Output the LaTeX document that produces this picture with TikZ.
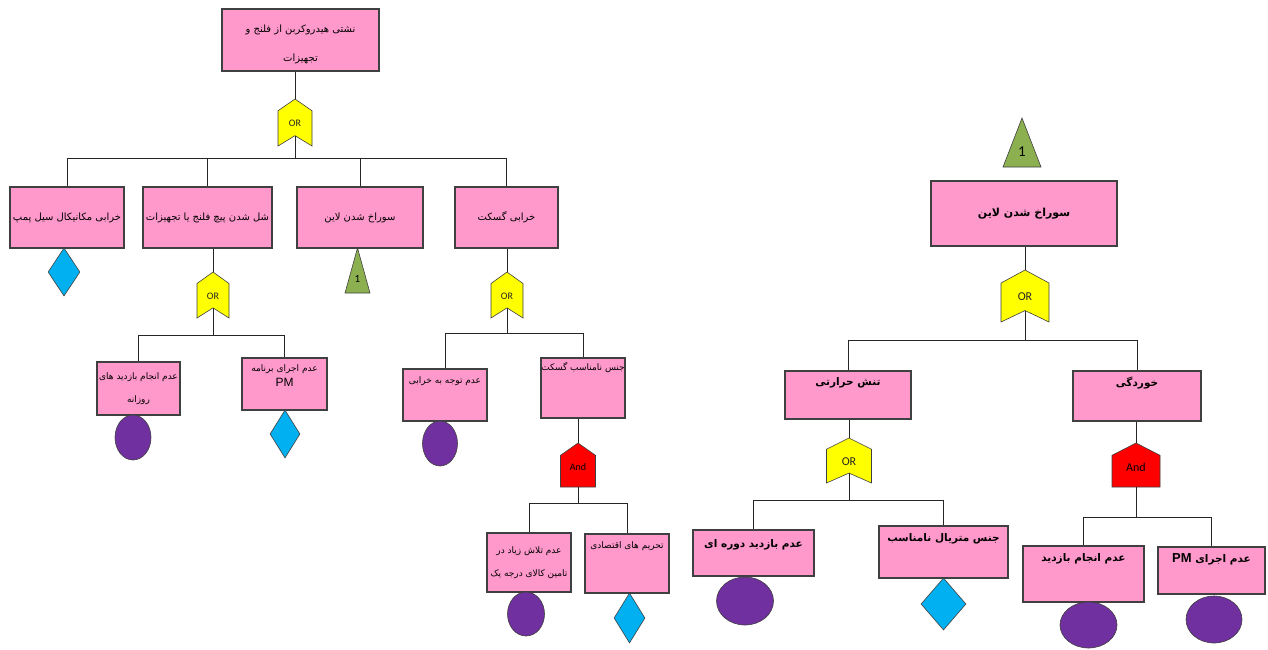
\documentclass[tikz,border=0pt]{standalone}
\usepackage{fontspec}
\usetikzlibrary{positioning,shapes.geometric}
\TeXXeTstate=1
\newfontfamily\farsi[Script=Arabic]{DejaVu Sans}
\newfontfamily\gatefont{Carlito}
\newfontfamily\pmfont{Liberation Sans}
\newcommand{\fa}[1]{{\farsi\beginR #1\endR}}

\definecolor{boxpink}{RGB}{255,153,204}
\definecolor{edgegray}{RGB}{64,64,64}
\definecolor{gateyellow}{RGB}{255,255,0}
\definecolor{gatered}{RGB}{255,0,0}
\definecolor{basecyan}{RGB}{0,176,240}
\definecolor{basepurple}{RGB}{112,48,160}
\definecolor{trigreen}{RGB}{140,176,80}

\tikzset{
	evbox/.style={draw=edgegray, line width=1.1pt, fill=boxpink, inner sep=2pt, align=center, font=\fontsize{9}{11}\selectfont},
	evtext/.style={inner sep=0pt, align=center, font=\fontsize{9}{11}\selectfont},
	bigtext/.style={inner sep=0pt, align=center, font=\bfseries\fontsize{10.5}{12}\selectfont},
	wire/.style={draw=black!85, line width=0.8pt},
	gateline/.style={draw=edgegray, line width=0.6pt},
	undev/.style={diamond, draw=edgegray, line width=0.6pt, fill=basecyan, inner sep=0pt},
	basicev/.style={ellipse, draw=black!75, line width=0.6pt, fill=basepurple, inner sep=0pt},
}

% name, cx, ytop, w, h, font size
\newcommand{\orgate}[6]{%
	\filldraw[gateline, fill=gateyellow] (#2,#3) -- ({#2+#4/2},{#3+0.25*#5}) -- ({#2+#4/2},{#3+#5}) -- (#2,{#3+0.78*#5}) -- ({#2-#4/2},{#3+#5}) -- ({#2-#4/2},{#3+0.25*#5}) -- cycle;
	\coordinate (#1-t) at (#2,#3);
	\coordinate (#1-b) at (#2,{#3+0.78*#5});
	\node[inner sep=0pt, text=black!85, font=\gatefont\fontsize{#6}{#6}\selectfont] (#1) at (#2,{#3+0.52*#5}) {OR};}
\newcommand{\andgate}[6]{%
	\filldraw[gateline, fill=gatered] (#2,#3) -- ({#2+#4/2},{#3+0.28*#5}) -- ({#2+#4/2},{#3+#5}) -- ({#2-#4/2},{#3+#5}) -- ({#2-#4/2},{#3+0.28*#5}) -- cycle;
	\coordinate (#1-t) at (#2,#3);
	\coordinate (#1-b) at (#2,{#3+#5});
	\node[inner sep=0pt, font=\gatefont\fontsize{#6}{#6}\selectfont] (#1) at (#2,{#3+0.55*#5}) {And};}
\newcommand{\trievent}[6]{%
	\filldraw[gateline, fill=trigreen] (#2,#3) -- ({#2+#4/2},{#3+#5}) -- ({#2-#4/2},{#3+#5}) -- cycle;
	\node[inner sep=0pt, font=\gatefont\fontsize{#6}{#6}\selectfont] (#1) at (#2,{#3+0.68*#5}) {1};}

\begin{document}
\begin{tikzpicture}[x=1pt, y=-1pt]
	\useasboundingbox (0,0) rectangle (1268,649);
	
	%%%%% LEFT TREE %%%%%
	
	\node[evbox, minimum width=157pt, minimum height=62pt] (top) at (300.5,40) {};
	\node[evtext, font=\fontsize{10}{12}\selectfont] (top-t) at (300.5,44) {\fa{نشتی هیدروکربن از فلنج و}\\[17pt]\fa{تجهیزات}};
	\orgate{g0}{295}{99}{34}{47}{10}
	\coordinate (bar0) at (0,158);
	
	\node[evbox, minimum width=114pt, minimum height=61pt, font=\fontsize{10}{12}\selectfont] (b1) at (67,217.5) {\fa{خرابی مکانیکال سیل پمپ}};
	\node[evbox, minimum width=129pt, minimum height=61pt, font=\fontsize{10}{12}\selectfont] (b2) at (207.5,217.5) {\fa{شل شدن پیچ فلنج یا تجهیزات}};
	\node[evbox, minimum width=126pt, minimum height=61pt, font=\fontsize{10}{12}\selectfont] (b3) at (360,217.5) {\fa{سوراخ شدن لاین}};
	\node[evbox, minimum width=103pt, minimum height=61pt, font=\fontsize{10}{12}\selectfont] (b4) at (506.5,217.5) {\fa{خرابی گسکت}};
	
	\draw[wire] (top.south -| g0-t) -- (g0-t);
	\draw[wire] (g0-b) -- (g0-b |- bar0);
	\draw[wire] (b1.north) -- (b1.north |- bar0) -- (b4.north |- bar0) -- (b4.north);
	\draw[wire] (b2.north) -- (b2.north |- bar0);
	\draw[wire] (b3.north) -- (b3.north |- bar0);
	
	\node[undev, minimum width=32pt, minimum height=48pt] (d1) at (64,272) {};
	\trievent{t3}{357.5}{248}{25}{45}{11}
	
	% loosened bolts
	\orgate{g2}{213}{272}{32}{46}{10}
	\coordinate (bar2) at (0,335);
	\node[evbox, minimum width=83pt, minimum height=53pt] (A) at (138.5,388.5) {\fa{عدم انجام بازدید های}\\[12pt]\fa{روزانه}};
	\node[evbox, minimum width=85pt, minimum height=52pt] (B) at (284.5,384) {};
	\node[evtext, below=7pt of B.north] (B-t) {\fa{عدم اجرای برنامه}\\[4pt]{\pmfont\fontsize{12}{12}\selectfont PM}};
	\draw[wire] (b2.south -| g2-t) -- (g2-t);
	\draw[wire] (g2-b) -- (g2-b |- bar2);
	\draw[wire] (A.north) -- (A.north |- bar2) -- (B.north |- bar2) -- (B.north);
	\node[basicev, minimum width=36pt, minimum height=45pt] (cA) at (133,437.5) {};
	\node[undev, minimum width=30pt, minimum height=48pt] (dB) at (285,434) {};
	
	% gasket
	\orgate{g4}{507}{272}{32}{46}{10}
	\coordinate (bar4) at (0,333);
	\node[evbox, minimum width=84pt, minimum height=52pt] (C) at (445,395) {};
	\node[evtext, below=8pt of C.north] (C-t) {\fa{عدم توجه به خرابی}};
	\node[evbox, minimum width=84pt, minimum height=60pt] (D) at (583,388) {};
	\node[evtext, below=5pt of D.north] (D-t) {\fa{جنس نامناسب گسکت}};
	\draw[wire] (b4.south -| g4-t) -- (g4-t);
	\draw[wire] (g4-b) -- (g4-b |- bar4);
	\draw[wire] (C.north) -- (C.north |- bar4) -- (D.north |- bar4) -- (D.north);
	\node[basicev, minimum width=35pt, minimum height=45pt] (cC) at (440,443.5) {};
	
	\andgate{gD}{578}{443}{35}{44}{10}
	\coordinate (barD) at (0,503);
	\node[evbox, minimum width=84pt, minimum height=59pt] (E) at (529,562.5) {\fa{عدم تلاش زیاد در}\\[12pt]\fa{تامین کالای درجه یک}};
	\node[evbox, minimum width=84pt, minimum height=59pt] (F) at (627,563.5) {};
	\node[evtext, below=8pt of F.north] (F-t) {\fa{تحریم های اقتصادی}};
	\draw[wire] (D.south -| gD-t) -- (gD-t);
	\draw[wire] (gD-b) -- (gD-b |- barD);
	\draw[wire] (E.north) -- (E.north |- barD) -- (F.north |- barD) -- (F.north);
	\node[basicev, minimum width=37pt, minimum height=44pt] (cE) at (526,614) {};
	\node[undev, minimum width=31pt, minimum height=50pt] (dF) at (629.5,618) {};
	
	%%%%% RIGHT TREE %%%%%
	
	\trievent{tR}{1022}{118}{38}{49}{15}
	\node[evbox, minimum width=186pt, minimum height=65pt, font=\bfseries\fontsize{11}{13}\selectfont] (R) at (1024,213.5) {\fa{سوراخ شدن لاین}};
	\orgate{gR}{1025}{270}{48}{52}{12}
	\coordinate (barR) at (0,340);
	\node[evbox, minimum width=126pt, minimum height=48pt] (S) at (848,395) {};
	\node[bigtext, below=7pt of S.north] (S-t) {\fa{تنش حرارتی}};
	\node[evbox, minimum width=128pt, minimum height=50pt] (T) at (1137,396) {};
	\node[bigtext, below=6pt of T.north] (T-t) {\fa{خوردگی}};
	\draw[wire] (R.south -| gR-t) -- (gR-t);
	\draw[wire] (gR-b) -- (gR-b |- barR);
	\draw[wire] (S.north) -- (S.north |- barR) -- (T.north |- barR) -- (T.north);
	
	\orgate{gS}{849}{438}{45}{45}{12}
	\coordinate (barS) at (0,500);
	\node[evbox, minimum width=121pt, minimum height=46pt] (U) at (753.5,553) {};
	\node[bigtext, below=10pt of U.north] (U-t) {\fa{عدم بازدید دوره ای}};
	\node[evbox, minimum width=129pt, minimum height=52pt] (V) at (943.5,552) {};
	\node[bigtext, below=8pt of V.north] (V-t) {\fa{جنس متریال نامناسب}};
	\draw[wire] (S.south -| gS-t) -- (gS-t);
	\draw[wire] (gS-b) -- (gS-b |- barS);
	\draw[wire] (U.north) -- (U.north |- barS) -- (V.north |- barS) -- (V.north);
	\node[basicev, minimum width=57pt, minimum height=48pt] (cU) at (745,601) {};
	\node[undev, minimum width=45pt, minimum height=52pt] (dV) at (943.5,604) {};
	
	\andgate{gT}{1136}{443}{48}{44}{12}
	\coordinate (barT) at (0,517);
	\node[evbox, minimum width=121pt, minimum height=56pt] (W) at (1083.5,574) {};
	\node[bigtext, below=8pt of W.north] (W-t) {\fa{عدم انجام بازدید}};
	\node[evbox, minimum width=107pt, minimum height=47pt] (X) at (1211.5,570.5) {};
	\node[bigtext, below=7pt of X.north] (X-t) {\fa{عدم اجرای \beginL{\pmfont\bfseries\fontsize{13}{13}\selectfont PM}\endL}};
	\draw[wire] (T.south -| gT-t) -- (gT-t);
	\draw[wire] (gT-b) -- (gT-b |- barT);
	\draw[wire] (W.north) -- (W.north |- barT) -- (X.north |- barT) -- (X.north);
	\node[basicev, minimum width=57pt, minimum height=46pt] (cW) at (1088.5,625) {};
	\node[basicev, minimum width=56pt, minimum height=47pt] (cX) at (1214,619.5) {};
	
\end{tikzpicture}
\end{document}
